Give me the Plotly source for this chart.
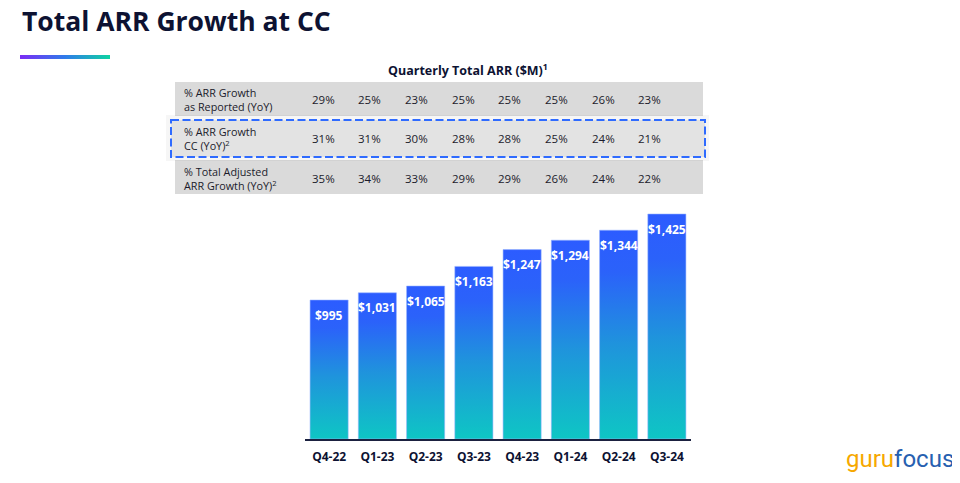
import plotly.graph_objects as go

# ---------------- data ----------------
quarters = ["Q4-22", "Q1-23", "Q2-23", "Q3-23", "Q4-23", "Q1-24", "Q2-24", "Q3-24"]
arr_values = [995, 1031, 1065, 1163, 1247, 1294, 1344, 1425]
growth_reported = [29, 25, 23, 25, 25, 25, 26, 23]
growth_cc = [31, 31, 30, 28, 28, 25, 24, 21]
growth_adjusted = [35, 34, 33, 29, 29, 26, 24, 22]
row_labels = [
    "% ARR Growth<br>as Reported (YoY)",
    "% ARR Growth<br>CC (YoY)<sup>2</sup>",
    "% Total Adjusted<br>ARR Growth (YoY)<sup>2</sup>",
]
table_rows = [growth_reported, growth_cc, growth_adjusted]

# ---------------- style ----------------
# the page body has an 8px default margin, so the figure starts at (8, 8)
OFF = 8
W, H = 952, 467
FONT = "Open Sans"
NAVY = "#0D1232"
Y_BASE = 300
Y_TOP = 1500
BAR_W = 0.79
bar_scale = [[0.0, "#0EC6C4"], [0.45, "#1F94DC"], [0.8, "#2B62FA"], [1.0, "#2C5CFF"]]

# plot area in window pixels
PX_L, PX_R, PX_TOP, PX_BOT = 305, 691, 199, 439

fig = go.Figure()

# bars drawn as gradient-filled shapes on the data axes
for i, v in enumerate(arr_values):
    fig.add_trace(go.Scatter(
        x=[i - BAR_W / 2, i + BAR_W / 2, i + BAR_W / 2, i - BAR_W / 2, i - BAR_W / 2],
        y=[Y_BASE, Y_BASE, v, v, Y_BASE],
        mode="lines", fill="toself",
        line=dict(width=0.8, color="rgba(150,180,255,0.7)"),
        fillgradient=dict(type="vertical", colorscale=bar_scale, start=Y_BASE, stop=v),
        hoverinfo="text", text=f"{quarters[i]}: ${v:,}M",
        showlegend=False, xaxis="x", yaxis="y",
    ))

annotations = []
for i, v in enumerate(arr_values):
    annotations.append(dict(
        x=i, y=v, xref="x", yref="y", text=f"<b>${v:,}</b>",
        showarrow=False, yanchor="middle", yshift=-15,
        font=dict(family=FONT, size=12, color="white"),
    ))

# ---------------- decorations in window-pixel coordinates (x2/y2) ----------------
fig.add_trace(go.Scatter(
    x=[20, 110, 110, 20, 20], y=[55, 55, 59, 59, 55],
    mode="lines", fill="toself", line=dict(width=0),
    fillgradient=dict(type="horizontal",
                      colorscale=[[0, "#7B2CF5"], [0.5, "#2F7BEA"], [1, "#0FD3A2"]]),
    hoverinfo="skip", showlegend=False, xaxis="x2", yaxis="y2",
))

shapes = []
shapes.append(dict(type="rect", xref="x2", yref="y2", x0=175, x1=703, y0=82, y1=116,
                   fillcolor="#DADADA", line=dict(width=0), layer="below"))
shapes.append(dict(type="rect", xref="x2", yref="y2", x0=175, x1=703, y0=160, y1=194,
                   fillcolor="#DADADA", line=dict(width=0), layer="below"))
shapes.append(dict(type="rect", xref="x2", yref="y2", x0=166, x1=709, y0=115, y1=161,
                   fillcolor="rgba(0,0,0,0.035)", line=dict(width=0), layer="below"))
shapes.append(dict(type="rect", xref="x2", yref="y2", x0=171, x1=705, y0=120, y1=157,
                   fillcolor="#E3E3E3", line=dict(width=2, color="#2F6BFF", dash="8px,3.5px"),
                   layer="below"))

annotations.append(dict(
    x=20, y=21, xref="x2", yref="y2", text="<b>Total ARR Growth at CC</b>",
    showarrow=False, xanchor="left", yanchor="middle",
    font=dict(family=FONT, size=26.5, color=NAVY),
))
annotations.append(dict(
    x=468, y=70, xref="x2", yref="y2", text="<b>Quarterly Total ARR ($M)<sup>1</sup></b>",
    showarrow=False, xanchor="center", yanchor="middle",
    font=dict(family=FONT, size=12.5, color=NAVY),
))

row_y = [99, 138.5, 178]
col_x0, col_dx = 323, 46.7
for r, (label, vals) in enumerate(zip(row_labels, table_rows)):
    annotations.append(dict(
        x=182, y=row_y[r], xref="x2", yref="y2", text=label,
        showarrow=False, xanchor="left", yanchor="middle", align="left",
        font=dict(family=FONT, size=10.8, color="#1B1B2B"),
    ))
    for c, val in enumerate(vals):
        annotations.append(dict(
            x=col_x0 + c * col_dx, y=row_y[r], xref="x2", yref="y2", text=f"{val}%",
            showarrow=False, xanchor="center", yanchor="middle",
            font=dict(family=FONT, size=11.5, color="#1B1B2B"),
        ))

annotations.append(dict(
    x=956, y=459, xref="x2", yref="y2",
    text="<span style='color:#F6A800'>guru</span><span style='color:#2760B0'>focus</span>",
    showarrow=False, xanchor="right", yanchor="middle",
    font=dict(family="Roboto", size=24),
))

fig.update_layout(
    width=W, height=H,
    margin=dict(l=0, r=0, t=0, b=0),
    paper_bgcolor="white", plot_bgcolor="rgba(0,0,0,0)",
    showlegend=False,
    xaxis=dict(domain=[(PX_L - OFF) / W, (PX_R - OFF) / W], range=[-0.5, 7.5],
               tickmode="array", tickvals=list(range(len(quarters))),
               ticktext=[f"<b>{q}</b>" for q in quarters],
               showline=True, linecolor="#1B2140", linewidth=1.5,
               showgrid=False, zeroline=False, ticks="", ticklabelstandoff=6,
               tickfont=dict(family=FONT, size=12, color=NAVY), fixedrange=True),
    yaxis=dict(domain=[(OFF + H - PX_BOT) / H, (OFF + H - PX_TOP) / H],
               range=[Y_BASE, Y_TOP], visible=False,
               showgrid=False, zeroline=False, fixedrange=True),
    xaxis2=dict(domain=[0, 1], range=[OFF, OFF + W], visible=False, anchor="y2",
                showgrid=False, zeroline=False, fixedrange=True),
    yaxis2=dict(domain=[0, 1], range=[OFF + H, OFF], visible=False, anchor="x2",
                showgrid=False, zeroline=False, fixedrange=True),
    shapes=shapes,
    annotations=annotations,
)

fig.write_html("out.html")
